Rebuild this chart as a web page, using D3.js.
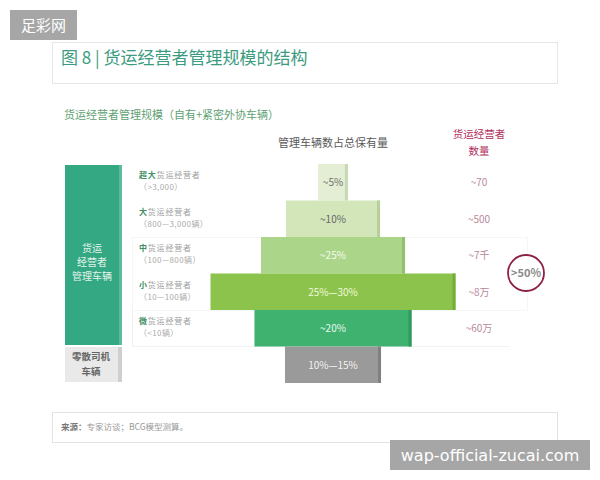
<!DOCTYPE html>
<html><head><meta charset="utf-8">
<script src="https://cdn.jsdelivr.net/npm/d3@7"></script>
<style>body{margin:0;background:#fff}svg{display:block;font-family:"Noto Sans CJK SC","Noto Sans",sans-serif}</style>
</head><body><svg id="c" width="600" height="480"></svg>
<script>
const categories = ["超大","大","中","小","微","零散"];
const ranges = ["（>3,000）","（800—3,000辆）","（100—800辆）","（10—100辆）","（<10辆）",""];
const shareLabels = ["~5%","~10%","~25%","25%—30%","~20%","10%—15%"];
const relWidth = [12.2, 38.4, 58.8, 100, 64.1, 39.2];
const operatorCounts = ["~70","~500","~7千","~8万","~60万",""];
const fills = ["#e4eed5","#d3e6ba","#abd589","#8cc34d","#3fb26f","#9a9a9a"];
const edges = ["#c8d8b2","#b6d099","#92c070","#76ad3a","#2f9a5a","#808080"];
const textCols = ["#6f6f6f","#666666","#f6fbef","#f2fadc","#eaf8ef","#f2f2f2"];

const svg = d3.select("#c");
const cx = 333;
const y = d3.scaleBand().domain(categories).range([164, 383]).paddingInner(0);
const w = d3.scaleLinear().domain([0,100]).range([0,245]);

// watermark top-left
svg.append("rect").attr("x",10).attr("y",10).attr("width",67).attr("height",30).attr("fill","#a6a6a6");
svg.append("text").attr("x",43.5).attr("y",31).attr("text-anchor","middle").attr("fill","#fff").attr("font-size",15).text("足彩网");

// title box
svg.append("rect").attr("x",52.5).attr("y",42.5).attr("width",505).attr("height",41).attr("fill","#fff").attr("stroke","#e6e6e6");
svg.append("text").attr("x",61).attr("y",64).attr("fill","#3b9b80").attr("font-size",17).text("图 8 | 货运经营者管理规模的结构");

// subtitle
svg.append("text").attr("x",64).attr("y",119).attr("fill","#5f9f74").attr("font-size",11).text("货运经营者管理规模（自有+紧密外协车辆）");
svg.append("text").attr("x",cx).attr("y",147).attr("text-anchor","middle").attr("fill","#595959").attr("font-size",11).text("管理车辆数占总保有量");
svg.append("text").attr("x",479).attr("y",138).attr("text-anchor","middle").attr("fill","#b2305c").attr("font-size",10.5).text("货运经营者");
svg.append("text").attr("x",479).attr("y",155).attr("text-anchor","middle").attr("fill","#b2305c").attr("font-size",10.5).text("数量");

// faint highlight box rows 3-4
svg.append("rect").attr("x",132.5).attr("y",y("中")+0.5).attr("width",395).attr("height",y.bandwidth()*2)
  .attr("fill","none").attr("stroke","#ececec").attr("stroke-dasharray","1,1");
svg.append("line").attr("x1",132.5).attr("x2",132.5).attr("y1",y("微")).attr("y2",y("微")+y.bandwidth()).attr("stroke","#eeeeee");
svg.append("line").attr("x1",132.5).attr("x2",510).attr("y1",y("微")+y.bandwidth()).attr("y2",y("微")+y.bandwidth()).attr("stroke","#f2f2f2");

// left column
svg.append("rect").attr("x",65).attr("y",165).attr("width",57).attr("height",180).attr("fill","#33a883");
svg.append("rect").attr("x",119).attr("y",165).attr("width",3).attr("height",180).attr("fill","#5dbb9b");
["货运","经营者","管理车辆"].forEach((t,i)=>svg.append("text").attr("x",92).attr("y",252+i*14).attr("text-anchor","middle").attr("fill","#e3f3ec").attr("font-size",10).text(t));
svg.append("rect").attr("x",65).attr("y",347).attr("width",57).attr("height",35).attr("fill","#e9e9e9");
svg.append("rect").attr("x",118).attr("y",347).attr("width",4).attr("height",35).attr("fill","#cfcfcf");
["零散司机","车辆"].forEach((t,i)=>svg.append("text").attr("x",91).attr("y",360+i*15).attr("text-anchor","middle").attr("fill","#666").attr("font-size",9.5).attr("font-weight","bold").text(t));

// category labels
categories.slice(0,5).forEach((c,i)=>{
  const yy = y(c) + 14;
  const t = svg.append("text").attr("x",139).attr("y",yy).attr("font-size",8).attr("letter-spacing",0.8);
  t.append("tspan").attr("fill","#3e8f64").attr("font-weight","bold").text(c);
  t.append("tspan").attr("fill","#a0a0a0").text("货运经营者");
  svg.append("text").attr("x",139).attr("y",yy+12).attr("font-size",8).attr("letter-spacing",0.4).attr("fill","#aaaaaa").text(ranges[i]);
});

// bars
const g = svg.append("g");
categories.forEach((c,i)=>{
  const bw = w(relWidth[i]);
  g.append("rect").attr("x",cx-bw/2).attr("y",y(c)).attr("width",bw).attr("height",y.bandwidth()).attr("fill",fills[i]);
  g.append("rect").attr("x",cx+bw/2-3).attr("y",y(c)).attr("width",3).attr("height",y.bandwidth()).attr("fill",edges[i]);
  g.append("text").attr("x",cx).attr("y",y(c)+y.bandwidth()/2+4).attr("text-anchor","middle")
    .attr("fill",textCols[i]).attr("font-size",10).text(shareLabels[i]);
  if (operatorCounts[i]) svg.append("text").attr("x",479).attr("y",y(c)+y.bandwidth()/2+4).attr("text-anchor","middle")
    .attr("fill","#b98a9c").attr("font-size",10).text(operatorCounts[i]);
});

// circle
svg.append("circle").attr("cx",526).attr("cy",273).attr("r",18).attr("fill","#fff").attr("stroke","#8e1f44").attr("stroke-width",1.8);
svg.append("text").attr("x",526).attr("y",277).attr("text-anchor","middle").attr("fill","#8a8a8a").attr("font-size",11).attr("font-weight","bold").text(">50%");

// footer
svg.append("rect").attr("x",52.5).attr("y",412.5).attr("width",505).attr("height",30).attr("fill","#fff").attr("stroke","#e3e3e3");
const ft = svg.append("text").attr("x",61).attr("y",430).attr("font-size",8.5).attr("fill","#999");
ft.append("tspan").attr("font-weight","bold").attr("fill","#777").text("来源：");
ft.append("tspan").text("专家访谈；BCG模型测算。");

// bottom watermark
svg.append("rect").attr("x",390).attr("y",440).attr("width",200).attr("height",30).attr("fill","#a6a6a6");
svg.append("text").attr("x",490).attr("y",461).attr("text-anchor","middle").attr("fill","#fff").attr("font-size",16).attr("font-family","DejaVu Sans, sans-serif").text("wap-official-zucai.com");
</script></body></html>
